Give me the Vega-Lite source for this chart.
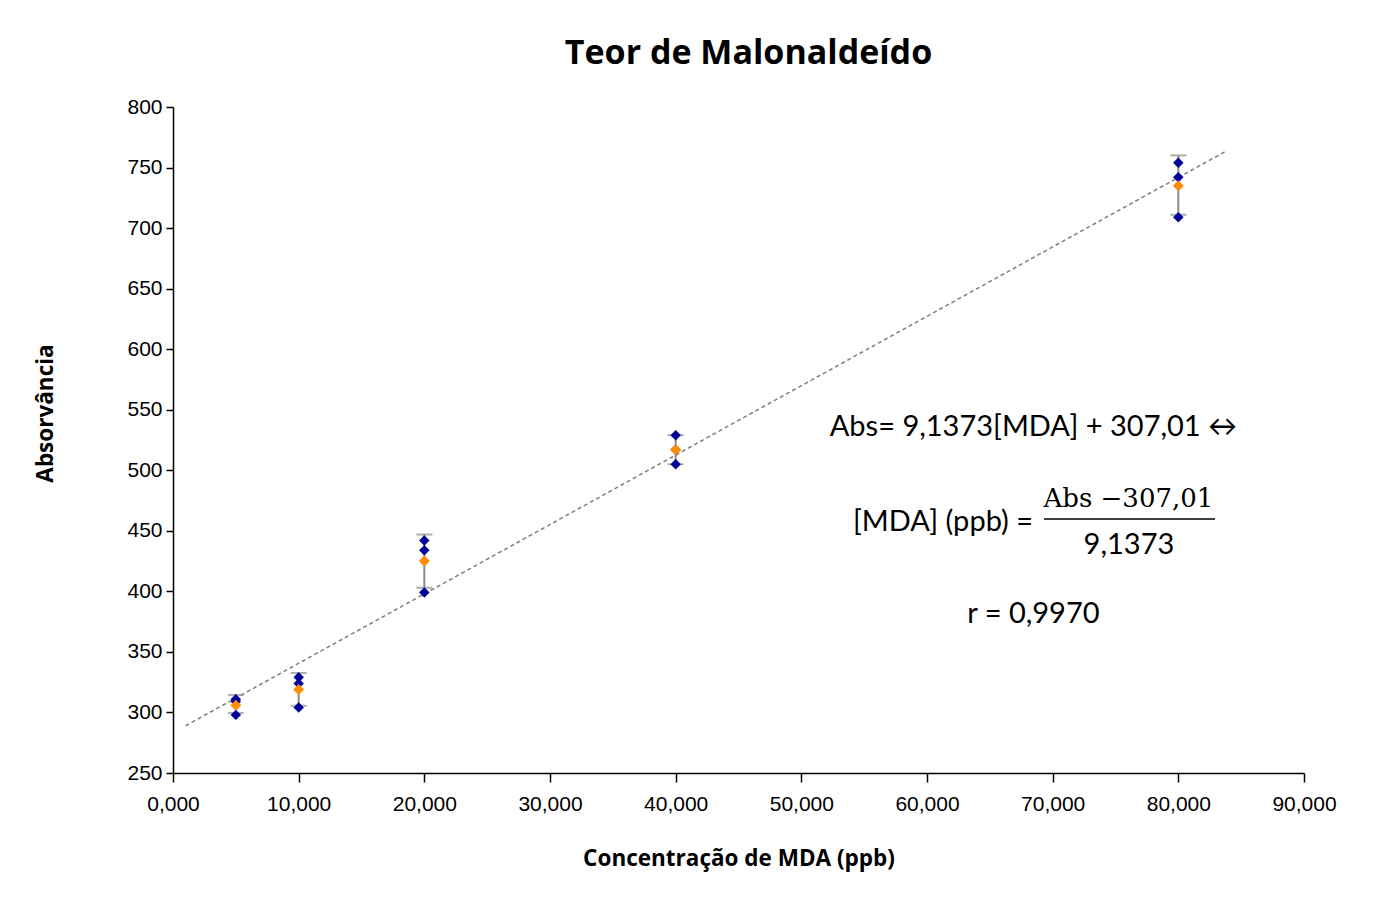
{
  "$schema": "https://vega.github.io/schema/vega-lite/v6.json",
  "width": 1131,
  "height": 666,
  "autosize": {"type": "none"},
  "padding": {"left": 173, "top": 107, "right": 71, "bottom": 124},
  "background": "white",
  "title": {"text": "Teor de Malonaldeído", "font": "Open Sans", "fontSize": 34, "fontWeight": "bold", "color": "#000000", "anchor": "middle", "offset": 25, "dx": 10},
  "config": {
    "view": {"stroke": null},
    "axis": {"grid": false, "domainColor": "#000000", "domainWidth": 1.5, "tickColor": "#000000", "tickWidth": 1.5, "labelFont": "Liberation Sans", "labelFontSize": 21, "labelColor": "#000000", "labelFlush": false, "titleFont": "Open Sans", "titleFontSize": 22.5, "titleFontWeight": "bold", "titleColor": "#000000"}
  },
  "datasets": {
    "reps": [
      {"x": 5, "y": 311}, {"x": 5, "y": 309}, {"x": 5, "y": 298},
      {"x": 10, "y": 329}, {"x": 10, "y": 324}, {"x": 10, "y": 304},
      {"x": 20, "y": 442}, {"x": 20, "y": 434}, {"x": 20, "y": 399},
      {"x": 40, "y": 529}, {"x": 40, "y": 517}, {"x": 40, "y": 505},
      {"x": 80, "y": 754}, {"x": 80, "y": 742}, {"x": 80, "y": 709}
    ],
    "means": [
      {"x": 5, "y": 306, "lo": 299.5, "hi": 314.5},
      {"x": 10, "y": 319, "lo": 305.5, "hi": 332.5},
      {"x": 20, "y": 425, "lo": 403, "hi": 447},
      {"x": 40, "y": 517, "lo": 505, "hi": 529},
      {"x": 80, "y": 735, "lo": 711, "hi": 760}
    ],
    "trend": [
      {"x": 1.0, "y": 289},
      {"x": 83.7, "y": 763}
    ],
    "notesSans": [
      {"x": 68.47, "y": 535.8, "label": "Abs= 9,1373[MDA] + 307,01 ↔"},
      {"x": 61.27, "y": 457.3, "label": "[MDA] (ppb) ="},
      {"x": 76.07, "y": 438.3, "label": "9,1373"},
      {"x": 68.47, "y": 381.3, "label": "r = 0,9970"}
    ],
    "notesSerif": [
      {"x": 76.03, "y": 476.3, "label": "Abs −307,01"}
    ],
    "fracline": [
      {"x": 69.31, "x2": 82.92, "y": 459.8}
    ]
  },
  "encoding": {
    "x": {"field": "x", "type": "quantitative", "title": "Concentração de MDA (ppb)",
      "scale": {"domain": [0, 90], "nice": false, "zero": false},
      "axis": {"values": [0, 10, 20, 30, 40, 50, 60, 70, 80, 90], "labelExpr": "replace(format(datum.value, '.3f'), '.', ',')", "tickSize": 9, "labelPadding": 11, "titleY": 85, "titleBaseline": "middle"}},
    "y": {"field": "y", "type": "quantitative", "title": "Absorvância",
      "scale": {"domain": [250, 800], "nice": false, "zero": false},
      "axis": {"values": [250, 300, 350, 400, 450, 500, 550, 600, 650, 700, 750, 800], "tickSize": 7, "labelPadding": 4, "titleX": -128, "titleY": 306, "titleAngle": -90, "titleAlign": "center", "titleBaseline": "middle"}}
  },
  "layer": [
    {"data": {"name": "trend"}, "mark": {"type": "line", "color": "#7f7f7f", "strokeWidth": 1.5, "strokeDash": [4, 3]}, "encoding": {}},
    {"data": {"name": "means"}, "mark": {"type": "rule", "color": "#8c8c8c", "strokeWidth": 2},
      "encoding": {"y": {"field": "lo", "type": "quantitative", "title": "Absorvância"}, "y2": {"field": "hi"}}},
    {"data": {"name": "means"}, "mark": {"type": "tick", "orient": "horizontal", "color": "#8c8c8c", "size": 16, "thickness": 2},
      "encoding": {"y": {"field": "lo", "type": "quantitative", "title": "Absorvância"}}},
    {"data": {"name": "means"}, "mark": {"type": "tick", "orient": "horizontal", "color": "#8c8c8c", "size": 16, "thickness": 2},
      "encoding": {"y": {"field": "hi", "type": "quantitative", "title": "Absorvância"}}},
    {"data": {"name": "reps"}, "mark": {"type": "point", "shape": "diamond", "filled": true, "color": "#000099", "size": 110, "opacity": 1}},
    {"data": {"name": "means"}, "mark": {"type": "point", "shape": "diamond", "filled": true, "color": "#FF8C00", "size": 120, "opacity": 1}},
    {"data": {"name": "notesSans"}, "mark": {"type": "text", "font": "Lato", "fontSize": 29, "color": "#000000", "align": "center", "baseline": "middle"},
      "encoding": {"text": {"field": "label"}}},
    {"data": {"name": "notesSerif"}, "mark": {"type": "text", "font": "DejaVu Serif", "fontSize": 26, "color": "#000000", "align": "center", "baseline": "middle"},
      "encoding": {"text": {"field": "label"}}},
    {"data": {"name": "fracline"}, "mark": {"type": "rule", "color": "#000000", "strokeWidth": 1.5},
      "encoding": {"x2": {"field": "x2"}}}
  ]
}
